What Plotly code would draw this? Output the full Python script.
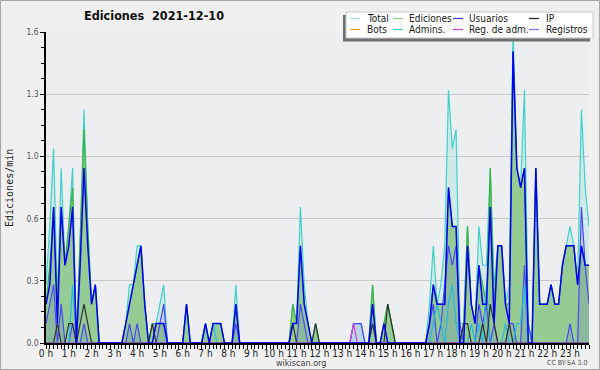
import plotly.graph_objects as go

# 10-minute bins, 0..143 (00:00 .. 23:50); values in actions per minute
bins = list(range(144))
hour_ticks = list(range(0, 144, 6))
hour_labels = [f"{h} h" for h in range(24)]

total = [
    0.3, 0.6, 1.0, 0.2, 0.9, 0.4, 0.6, 0.9, 0.0, 0.5, 1.2, 0.6,
    0.2, 0.3, 0, 0, 0, 0, 0, 0, 0, 0.1, 0.3, 0.3,
    0.5, 0.5, 0.2, 0, 0.1, 0.1, 0.2, 0.3, 0, 0, 0, 0,
    0, 0.2, 0, 0, 0, 0, 0.1, 0, 0.1, 0.1, 0.1, 0,
    0, 0, 0.3, 0, 0, 0, 0, 0, 0, 0, 0, 0,
    0, 0, 0, 0, 0, 0.2, 0.1, 0.7, 0.3, 0.1, 0, 0.1,
    0, 0, 0, 0, 0, 0, 0, 0, 0, 0.1, 0.1, 0.1,
    0, 0, 0.3, 0, 0, 0.1, 0.2, 0.1, 0, 0, 0, 0,
    0, 0, 0, 0, 0, 0.2, 0.5, 0.2, 0.3, 0.5, 1.3, 1.0,
    1.1, 0.1, 0.1, 0.6, 0.2, 0.1, 0.6, 0.4, 0.4, 0.9, 0.3, 0.5,
    0.5, 0.2, 0.3, 1.6, 0.9, 0.8, 1.3, 0.1, 0, 0.9, 0.2, 0.2,
    0.2, 0.3, 0.2, 0.2, 0.4, 0.5, 0.6, 0.5, 0.3, 1.2, 0.8, 0.6,
]
ediciones = [
    0.2, 0.4, 0.7, 0.2, 0.7, 0.4, 0.6, 0.8, 0.0, 0.5, 1.1, 0.6,
    0.2, 0.3, 0, 0, 0, 0, 0, 0, 0, 0.1, 0.2, 0.3,
    0.4, 0.5, 0.2, 0, 0.1, 0.1, 0.1, 0.1, 0, 0, 0, 0,
    0, 0.2, 0, 0, 0, 0, 0.1, 0, 0.1, 0.1, 0.1, 0,
    0, 0, 0.2, 0, 0, 0, 0, 0, 0, 0, 0, 0,
    0, 0, 0, 0, 0, 0.2, 0.1, 0.5, 0.2, 0.1, 0, 0.1,
    0, 0, 0, 0, 0, 0, 0, 0, 0, 0, 0, 0,
    0, 0, 0.3, 0, 0, 0.1, 0.2, 0.1, 0, 0, 0, 0,
    0, 0, 0, 0, 0, 0.1, 0.3, 0.2, 0.2, 0.2, 0.8, 0.6,
    0.6, 0, 0.1, 0.6, 0.2, 0.1, 0.4, 0.3, 0.2, 0.9, 0.2, 0.5,
    0.5, 0.2, 0.2, 1.5, 0.9, 0.8, 0.9, 0, 0, 0.9, 0.2, 0.2,
    0.2, 0.3, 0.2, 0.2, 0.4, 0.5, 0.5, 0.5, 0.3, 0.5, 0.4, 0.4,
]
usuarios = [
    0.2, 0.3, 0.7, 0.1, 0.7, 0.4, 0.5, 0.7, 0, 0.4, 0.9, 0.5,
    0.2, 0.3, 0, 0, 0, 0, 0, 0, 0, 0.1, 0.2, 0.3,
    0.4, 0.5, 0.2, 0, 0, 0.1, 0.1, 0.1, 0, 0, 0, 0,
    0, 0.2, 0, 0, 0, 0, 0.1, 0, 0.1, 0.1, 0.1, 0,
    0, 0, 0.2, 0, 0, 0, 0, 0, 0, 0, 0, 0,
    0, 0, 0, 0, 0, 0.1, 0.1, 0.5, 0.2, 0.1, 0, 0,
    0, 0, 0, 0, 0, 0, 0, 0, 0, 0, 0, 0,
    0, 0, 0.2, 0, 0, 0.1, 0, 0, 0, 0, 0, 0,
    0, 0, 0, 0, 0, 0.1, 0.3, 0.2, 0.2, 0.2, 0.8, 0.6,
    0.6, 0, 0, 0.5, 0.2, 0.1, 0.4, 0.2, 0.2, 0.7, 0.1, 0.5,
    0.5, 0.2, 0.1, 1.5, 0.9, 0.8, 0.9, 0, 0, 0.9, 0.2, 0.2,
    0.2, 0.3, 0.2, 0.2, 0.4, 0.5, 0.5, 0.5, 0.3, 0.5, 0.4, 0.4,
]
ip = [
    0, 0, 0, 0.1, 0, 0, 0.1, 0.1, 0, 0.1, 0.2, 0.1,
    0, 0, 0, 0, 0, 0, 0, 0, 0, 0, 0, 0,
    0, 0, 0, 0, 0.1, 0, 0, 0, 0, 0, 0, 0,
    0, 0, 0, 0, 0, 0, 0, 0, 0, 0, 0, 0,
    0, 0, 0, 0, 0, 0, 0, 0, 0, 0, 0, 0,
    0, 0, 0, 0, 0, 0.1, 0, 0, 0, 0, 0, 0.1,
    0, 0, 0, 0, 0, 0, 0, 0, 0, 0, 0, 0,
    0, 0, 0.1, 0, 0, 0, 0.2, 0.1, 0, 0, 0, 0,
    0, 0, 0, 0, 0, 0, 0, 0, 0, 0, 0, 0,
    0, 0, 0.1, 0.1, 0, 0, 0, 0.1, 0, 0.2, 0.1, 0,
    0, 0, 0.1, 0, 0, 0, 0, 0, 0, 0, 0, 0,
    0, 0, 0, 0, 0, 0, 0, 0, 0, 0, 0, 0,
]
registros = [
    0.1, 0.2, 0.3, 0, 0.2, 0, 0, 0.1, 0, 0, 0.1, 0,
    0, 0, 0, 0, 0, 0, 0, 0, 0, 0, 0.1, 0,
    0.1, 0, 0, 0, 0, 0, 0.1, 0.2, 0, 0, 0, 0,
    0, 0, 0, 0, 0, 0, 0, 0, 0, 0, 0, 0,
    0, 0, 0.1, 0, 0, 0, 0, 0, 0, 0, 0, 0,
    0, 0, 0, 0, 0, 0, 0, 0.2, 0.1, 0, 0, 0,
    0, 0, 0, 0, 0, 0, 0, 0, 0, 0.1, 0.1, 0.1,
    0, 0, 0, 0, 0, 0, 0, 0, 0, 0, 0, 0,
    0, 0, 0, 0, 0, 0.1, 0.2, 0, 0.1, 0.3, 0.5, 0.4,
    0.5, 0.1, 0, 0, 0, 0, 0.2, 0.1, 0.2, 0, 0.1, 0,
    0, 0, 0.1, 0.1, 0, 0, 0.4, 0.1, 0, 0, 0, 0,
    0, 0, 0, 0, 0, 0, 0.1, 0, 0, 0.7, 0.4, 0.2,
]
admins = [
    0, 0, 0, 0, 0, 0, 0, 0.3, 0, 0, 0, 0,
    0, 0, 0, 0, 0, 0, 0, 0, 0, 0, 0, 0,
    0, 0, 0, 0, 0, 0, 0, 0, 0, 0, 0, 0,
    0, 0, 0, 0, 0, 0, 0.1, 0, 0.1, 0, 0, 0,
    0, 0, 0, 0, 0, 0, 0, 0, 0, 0, 0, 0,
    0, 0, 0, 0, 0, 0, 0, 0, 0, 0, 0, 0,
    0, 0, 0, 0, 0, 0, 0, 0, 0, 0, 0, 0,
    0, 0, 0.1, 0, 0, 0, 0, 0, 0, 0, 0, 0,
    0, 0, 0, 0, 0, 0, 0.1, 0.2, 0.1, 0, 0.2, 0.3,
    0.1, 0, 0, 0, 0.1, 0, 0.1, 0, 0.3, 0, 0, 0,
    0, 0.1, 0, 0, 0.1, 0.1, 0.3, 0, 0, 0, 0, 0,
    0, 0, 0, 0, 0, 0, 0, 0, 0, 0, 0, 0,
]
reg_adm = [0] * 81 + [0.1] + [0] * 62
bots = [0] * 144

y_ticks = [0, 0.32, 0.64, 0.96, 1.28, 1.6]
y_labels = ["0.0", "0.3", "0.6", "1.0", "1.3", "1.6"]

SANS = "DejaVu Sans Condensed, DejaVu Sans, sans-serif"
MONO = "DejaVu Sans Mono, monospace"

fig = go.Figure()


def line(name, y, color, width=1.2, **kw):
    fig.add_trace(go.Scatter(x=bins, y=y, name=name, mode="lines",
                             line=dict(color=color, width=width),
                             showlegend=False, hoverinfo="skip", **kw))


line("Bots", bots, "#f0a030", 1)
line("Total", total, "#40d0c8", 1.2, fill="tozeroy",
     fillcolor="rgba(185,232,228,0.55)")
line("Ediciones", ediciones, "#3cb043", 1.2, fill="tozeroy",
     fillcolor="#94cc94")
line("Registros", registros, "#4848f0", 1.2, fill="tozeroy",
     fillcolor="rgba(70,70,230,0.13)")
line("Admins.", admins, "#28b8e0", 1.2)
line("IP", ip, "#303030", 1.2)
line("Reg. de adm.", reg_adm, "#d040e0", 1.2)
line("Usuarios", usuarios, "#0000f0", 1.5)

# pixel -> paper helpers (plot area: x 46..589, y 32..343)
L, R, T, B = 46, 589, 32, 343
def px(x):
    return (x - L) / (R - L)
def py(y):
    return (B - y) / (B - T)

shapes = []
annotations = []

# outer frame
shapes.append(dict(type="rect", xref="paper", yref="paper",
                   x0=px(0.5), x1=px(599.5), y0=py(369.5), y1=py(0.5),
                   line=dict(color="#a8a8a8", width=1), layer="below"))

# legend box with shadow
shapes.append(dict(type="rect", xref="paper", yref="paper",
                   x0=px(343), x1=px(590), y0=py(41.5), y1=py(15),
                   fillcolor="#707070", line=dict(width=0)))
shapes.append(dict(type="rect", xref="paper", yref="paper",
                   x0=px(346), x1=px(593), y0=py(38), y1=py(12),
                   fillcolor="#ffffff", line=dict(color="#c8c8c8", width=1)))

legend_items = [
    ("Total", "#b4e8e6", 350, 366, 18.5), ("Ediciones", "#8cd08c", 393, 408, 18.5),
    ("Usuarios", "#3838d8", 453, 468, 18.5), ("IP", "#202020", 529, 545, 18.5),
    ("Bots", "#f0a030", 350, 366, 29.5), ("Admins.", "#40c8e0", 393, 408, 29.5),
    ("Reg. de adm.", "#d040e0", 453, 468, 29.5), ("Registros", "#7878f0", 529, 545, 29.5),
]
for text, color, sx, tx, yy in legend_items:
    shapes.append(dict(type="line", xref="paper", yref="paper",
                       x0=px(sx), x1=px(sx + 10), y0=py(yy), y1=py(yy),
                       line=dict(color=color, width=1.2)))
    annotations.append(dict(text=text, xref="paper", yref="paper",
                            x=px(tx), y=py(yy), xanchor="left", yanchor="middle",
                            showarrow=False, borderpad=0,
                            font=dict(family=SANS, size=10, color="#202020")))

annotations.append(dict(text="Ediciones/min", xref="paper", yref="paper",
                        x=px(9), y=py(188), textangle=-90, showarrow=False,
                        xanchor="center", yanchor="middle",
                        font=dict(family=MONO, size=10, color="#202020")))
annotations.append(dict(text="wikiscan.org", xref="paper", yref="paper",
                        x=px(300.5), y=py(363.5), showarrow=False, borderpad=0,
                        xanchor="center", yanchor="middle",
                        font=dict(family=SANS, size=9, color="#404040")))
annotations.append(dict(text="CC BY-SA 3.0", xref="paper", yref="paper",
                        x=px(589), y=py(362.5), showarrow=False,
                        xanchor="right", yanchor="middle",
                        font=dict(family=SANS, size=7, color="#505050")))

fig.update_layout(
    width=600, height=370, autosize=False,
    margin=dict(l=L, r=600 - R, t=T, b=370 - B, pad=0, autoexpand=False),
    paper_bgcolor="#f0f0f0", plot_bgcolor="#eceef0",
    title=dict(text="Ediciones  2021-12-10", xref="container", yref="container",
               x=154 / 600, y=1 - 16 / 370, xanchor="center", yanchor="middle",
               automargin=False,
               font=dict(family=SANS, size=12.5, color="#101010", weight="bold")),
    shapes=shapes, annotations=annotations,
    xaxis=dict(range=[0, 143], tickvals=hour_ticks, ticktext=hour_labels,
               automargin=False, ticklabelstandoff=-4,
               ticks="outside", ticklen=4, tickcolor="#000", tickwidth=1,
               minor=dict(dtick=1, ticks="outside", ticklen=4, tickcolor="#000",
                          showgrid=False),
               showline=True, linecolor="#000", linewidth=2, showgrid=False,
               zeroline=False, fixedrange=True,
               tickfont=dict(family=SANS, size=10, color="#202020")),
    yaxis=dict(range=[0, 1.6], tickvals=y_ticks, ticktext=y_labels,
               automargin=False,
               ticks="outside", ticklen=4, tickcolor="#000", tickwidth=1,
               minor=dict(dtick=0.08, ticks="outside", ticklen=3, tickcolor="#000",
                          showgrid=False),
               showline=True, linecolor="#000", linewidth=1.5, showgrid=True,
               gridcolor="#c8c8c8", gridwidth=1, zeroline=False, fixedrange=True,
               tickfont=dict(family=SANS, size=8.5, color="#555555")),
)

fig.write_html(
    "out.html",
    config={"displayModeBar": False},
    post_script="document.body.style.margin='0';document.body.style.overflow='hidden';",
)
